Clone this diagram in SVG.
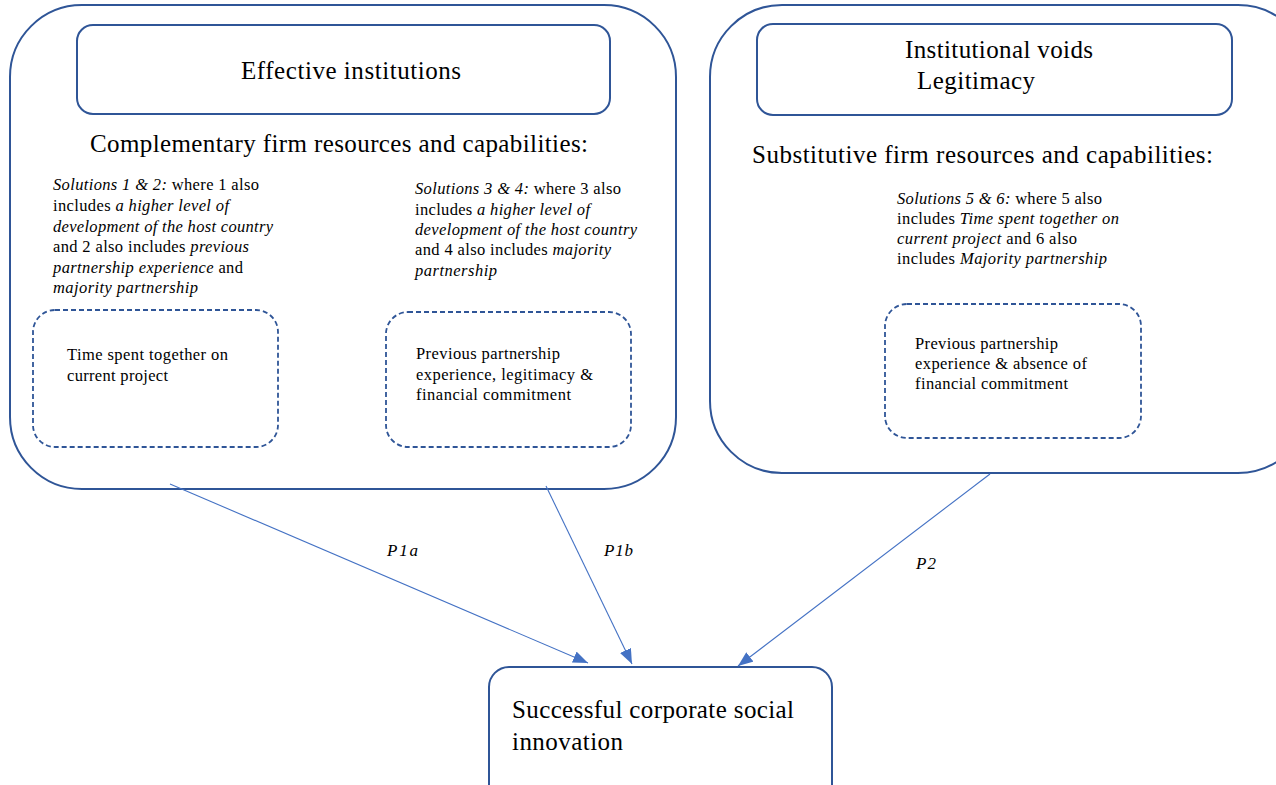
<svg xmlns="http://www.w3.org/2000/svg" width="1276" height="785" viewBox="0 0 1276 785">
<style>
.box{fill:#fff;stroke:#2F5597;stroke-width:2}
.dash{fill:#fff;stroke:#2F5597;stroke-width:1.8;stroke-dasharray:5 3}
.big{font-size:25px}
.sm{font-size:16.5px}
.lbl{font-size:17px;font-style:italic}
.it{font-style:italic}
.conn{stroke:#4472C4;stroke-width:1.1;fill:none}
</style>
<defs>
<marker id="ah" viewBox="0 0 10 10" refX="10" refY="5" markerWidth="15" markerHeight="12" markerUnits="userSpaceOnUse" orient="auto" preserveAspectRatio="none">
<path d="M0,0 L10,5 L0,10 z" fill="#4472C4"/>
</marker>
</defs>
<rect width="1276" height="785" fill="#fff"/>
<g font-family="Liberation Serif, Times New Roman, Tinos, serif" fill="#000">
<g id="left-group">
<rect class="box" x="10" y="5" width="666" height="484" rx="72"/>
<rect class="box" x="77" y="25" width="533" height="89" rx="16"/>
<text class="big" x="241" y="79" textLength="220">Effective institutions</text>
<text class="big" x="90" y="152" textLength="498">Complementary firm resources and capabilities:</text>
<text class="sm" x="53" y="190" textLength="206"><tspan class="it">Solutions 1 &amp; 2:</tspan> where 1 also</text>
<text class="sm" x="53" y="211" textLength="176">includes <tspan class="it">a higher level of</tspan></text>
<text class="sm it" x="53" y="232" textLength="220">development of the host country</text>
<text class="sm" x="53" y="252" textLength="196">and 2 also includes <tspan class="it">previous</tspan></text>
<text class="sm" x="53" y="273" textLength="190"><tspan class="it">partnership experience</tspan> and</text>
<text class="sm it" x="53" y="293" textLength="145">majority partnership</text>
<text class="sm" x="415" y="194" textLength="206"><tspan class="it">Solutions 3 &amp; 4:</tspan> where 3 also</text>
<text class="sm" x="415" y="215" textLength="175">includes <tspan class="it">a higher level of</tspan></text>
<text class="sm it" x="415" y="235" textLength="222">development of the host country</text>
<text class="sm" x="415" y="255" textLength="196">and 4 also includes <tspan class="it">majority</tspan></text>
<text class="sm it" x="415" y="276" textLength="82">partnership</text>
</g>

<g id="time-spent">
<rect class="dash" x="33" y="310" width="245" height="137" rx="22"/>
<text class="sm" x="67" y="360" textLength="161">Time spent together on</text>
<text class="sm" x="67" y="381" textLength="101">current project</text>
</g>

<g id="prev-partnership">
<rect class="dash" x="386" y="312" width="245" height="135" rx="22"/>
<text class="sm" x="416" y="359" textLength="144">Previous partnership</text>
<text class="sm" x="416" y="380" textLength="177">experience, legitimacy &amp;</text>
<text class="sm" x="416" y="400" textLength="155">financial commitment</text>
</g>

<g id="right-group">
<rect class="box" x="710" y="5" width="600" height="468" rx="72"/>
<rect class="box" x="757" y="24" width="475" height="91" rx="16"/>
<text class="big" x="905" y="58" textLength="188">Institutional voids</text>
<text class="big" x="917" y="89" textLength="118">Legitimacy</text>
<text class="big" x="752" y="163" textLength="461">Substitutive firm resources and capabilities:</text>
<text class="sm" x="897" y="204" textLength="205"><tspan class="it">Solutions 5 &amp; 6:</tspan> where 5 also</text>
<text class="sm" x="897" y="224" textLength="222">includes <tspan class="it">Time spent together on</tspan></text>
<text class="sm" x="897" y="244" textLength="180"><tspan class="it">current project</tspan> and 6 also</text>
<text class="sm" x="897" y="264" textLength="210">includes <tspan class="it">Majority partnership</tspan></text>
</g>

<g id="prev-absence">
<rect class="dash" x="885" y="304" width="256" height="134" rx="22"/>
<text class="sm" x="915" y="349" textLength="143">Previous partnership</text>
<text class="sm" x="915" y="369" textLength="172">experience &amp; absence of</text>
<text class="sm" x="915" y="389" textLength="153">financial commitment</text>
</g>

<g id="outcome">
<rect class="box" x="489" y="667" width="343" height="140" rx="20"/>
<text class="big" x="512" y="718" textLength="282">Successful corporate social</text>
<text class="big" x="512" y="750" textLength="111">innovation</text>
</g>

<g id="connectors">
<line class="conn" x1="170" y1="484" x2="588" y2="663" marker-end="url(#ah)"/>
<line class="conn" x1="546" y1="486" x2="632" y2="664" marker-end="url(#ah)"/>
<line class="conn" x1="990" y1="474" x2="738" y2="666" marker-end="url(#ah)"/>
<text class="lbl" x="387" y="556" textLength="31">P1a</text>
<text class="lbl" x="604" y="556" textLength="29">P1b</text>
<text class="lbl" x="916" y="569" textLength="20">P2</text>
</g>
</g>
</svg>
